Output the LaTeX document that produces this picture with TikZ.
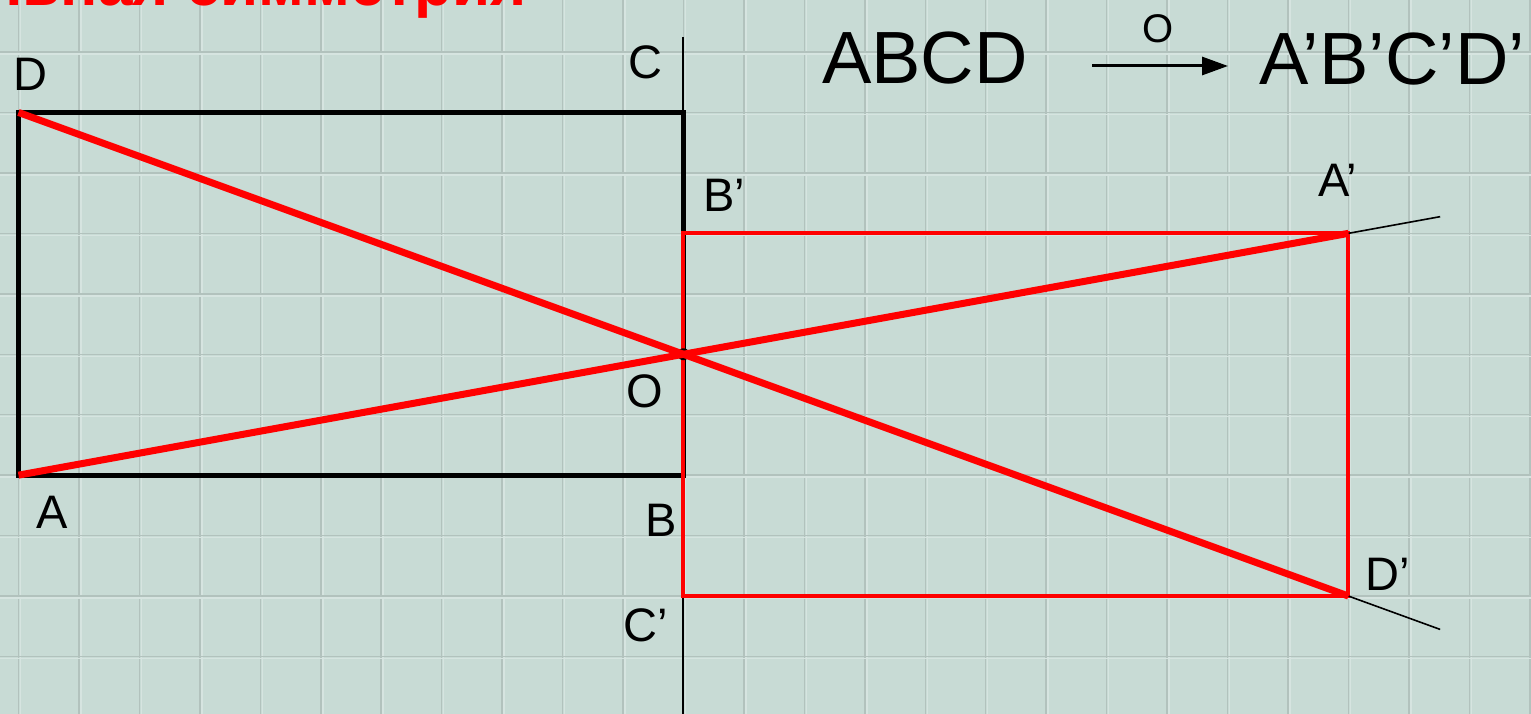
\documentclass[tikz,border=0pt]{standalone}
\usepackage{fontspec}
\setmainfont{Liberation Sans}
\usetikzlibrary{arrows.meta,calc}
\definecolor{bg}{RGB}{200,219,213}
\definecolor{gridd}{RGB}{178,194,189}
\definecolor{gridl}{RGB}{214,228,224}
\definecolor{pred}{RGB}{255,0,0}
\tikzset{
  lbl/.style={inner sep=0pt, font=\fontsize{47}{56}\selectfont},
  big/.style={inner sep=0pt, font=\fontsize{74}{88}\selectfont},
  blkrect/.style={draw=black, line width=5pt, line join=miter},
  redrect/.style={draw=pred, line width=4pt, line join=miter},
  reddiag/.style={draw=pred, line width=7pt},
  thinline/.style={draw=black, line width=1.6pt},
  axisline/.style={draw=black, line width=2pt}
}
\begin{document}
\begin{tikzpicture}[x=1pt,y=-1pt]
\useasboundingbox (0,0) rectangle (1531,714);
\clip (0,0) rectangle (1531,714);
\fill[bg] (0,0) rectangle (1531,714);
% grid
\foreach \i in {0,...,25} {
  \draw[gridl, line width=1.5pt] ({18.5+60.45*\i+2},0) -- ++(0,714);
  \draw[gridd, line width=1.5pt] ({18.5+60.45*\i},0) -- ++(0,714);
}
\foreach \j in {0,...,11} {
  \draw[gridl, line width=1.5pt] (0,{52+60.45*\j+2}) -- ++(1531,0);
  \draw[gridd, line width=1.5pt] (0,{52+60.45*\j}) -- ++(1531,0);
}
% points
\coordinate (D) at (18.5,112.45);
\coordinate (C) at (683.45,112.45);
\coordinate (B) at (683.45,475.15);
\coordinate (A) at (18.5,475.15);
\coordinate (O) at (683.45,354.25);
\coordinate (Bp) at (683.45,233.35);
\coordinate (Ap) at (1348.4,233.35);
\coordinate (Dp) at (1348.4,596.05);
\coordinate (Cp) at (683.45,596.05);
\coordinate (axT) at (683.45,37);
\coordinate (axB) at (683.45,714);
\coordinate (eA) at ($(A)!1.069!(Ap)$);
\coordinate (eD) at ($(D)!1.069!(Dp)$);
% title
\node[anchor=base east, inner sep=0pt, text=pred, font=\bfseries\fontsize{62}{70}\selectfont] (title) at (527,6) {Центральная симметрия};
% figures
\draw[axisline] (axT) -- (axB);
\draw[blkrect] (D) -- (C) -- (B) -- (A) -- cycle;
\draw[redrect] (Bp) -- (Ap) -- (Dp) -- (Cp) -- cycle;
\draw[thinline] (Ap) -- (eA);
\draw[thinline] (Dp) -- (eD);
\fill[black] (O) circle (6);
\draw[reddiag] (D) -- (Dp);
\draw[reddiag] (A) -- (Ap);
% labels
\node[lbl] (lD) at (30,74) {D};
\node[lbl] (lC) at (645,62) {C};
\node[lbl] (lBp) at (724,195) {B’};
\node[lbl] (lAp) at (1338,180) {A’};
\node[lbl] (lO) at (645,391) {O};
\node[lbl] (lA) at (52,512) {A};
\node[lbl] (lB) at (661,520) {B};
\node[lbl] (lCp) at (646,625) {C’};
\node[lbl] (lDp) at (1388,574) {D’};
% mapping
\node[big] (src) at (925,58.5) {ABCD};
\node[big] (dst) at (1392,59) {A’B’C’D’};
\coordinate (arS) at (1092,66);
\coordinate (arE) at (1228,66);
\draw[line width=3pt, -{Triangle[length=26pt,width=18pt]}] (arS) -- (arE);
\node[inner sep=0pt, font=\fontsize{40}{48}\selectfont] (lOm) at (1158,29) {O};
\end{tikzpicture}
\end{document}
